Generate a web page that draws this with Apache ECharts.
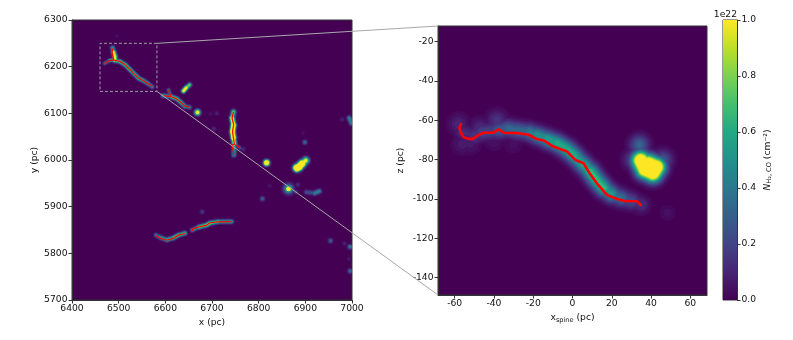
<!DOCTYPE html>
<html>
<head>
<meta charset="utf-8">
<title>CO column density filament</title>
<script src="https://cdn.jsdelivr.net/npm/echarts@6/dist/echarts.min.js"></script>
<style>
  html, body { margin: 0; padding: 0; background: #fff; }
  #chart { width: 793px; height: 340px; }
</style>
</head>
<body>
<div id="chart"></div>
<script>
// tick labels
const xTicksLeft = [6400, 6500, 6600, 6700, 6800, 6900, 7000]
const yTicksLeft = [5700, 5800, 5900, 6000, 6100, 6200, 6300]
const xTicksRight = [-60, -40, -20, 0, 20, 40, 60]
const zTicksRight = [-140, -120, -100, -80, -60, -40, -20]
const cbarTicks = [0, 0.2, 0.4, 0.6, 0.8, 1]

// zoom box, left panel (pc)
const boxX = [6460, 6582]
const boxY = [6147, 6250]

// red spines, left panel [x, y]
const spineA1 = [[6470,6207],[6480,6213],[6489,6214.5],[6503,6211],[6514,6204],[6525,6193],[6533,6184.5],[6543,6175],[6553,6170],[6564,6163],[6572.5,6157.5]]
const spineA2 = [[6487,6239],[6486,6230],[6489,6214.5]]
const spineB1 = [[6595,6138],[6612,6136],[6624.5,6131],[6635,6122],[6642,6115.5],[6652,6113]]
const spineB2 = [[6607,6150],[6612,6136]]
const spineC1 = [[6746,6103],[6743,6090],[6746.5,6075.5],[6744,6061],[6746,6047],[6748,6034],[6760,6025.5]]
const spineC2 = [[6748,6034],[6743,6032],[6747,6010.5]]
const spineD = [[6580,5838],[6589,5832.5],[6603,5828],[6617.5,5832.5],[6628,5839],[6642.5,5842.5]]
const spineE = [[6658,5847.5],[6658.5,5852.5],[6671,5856],[6689,5860.5],[6696,5865.5],[6713.5,5867.5],[6742,5868]]

// red spine, right panel [x, z]
const spineRight = [[-56.7,-61.4],[-57.6,-63.9],[-56.7,-66.5],[-55.5,-68.5],[-53,-69.4],[-50.8,-69.4],[-47.9,-67.5],[-45.3,-66.3],[-40.2,-66.3],[-37.7,-64.6],[-34.8,-66.3],[-27.5,-66.5],[-22.4,-67.3],[-18.2,-69.5],[-14.8,-70.2],[-9.7,-73.3],[-2.9,-75.8],[1.4,-80.1],[5.6,-81.8],[8.7,-86.9],[12.4,-92],[17.5,-97.9],[22.6,-100],[26.8,-101],[32.8,-101.1],[35,-103.4]]

// column density ridges, left panel [x, y, N / 1e22]
const fieldA = [[6489,6214,.85],[6503,6211,.75],[6514,6204,.85],[6525,6193,.75],[6533,6185,.7],[6543,6175,.75],[6553,6170,.6],[6564,6163,.55],[6572,6157,.35]]
const fieldAWing = [[6470,6207,.3],[6480,6213,.5],[6489,6215,.85]]
const fieldAHead = [[6487,6240,.35],[6489,6232,.85],[6492,6222,1.25],[6492,6214,.95]]
const fieldB = [[6595,6138,.35],[6612,6136,.8],[6625,6131,.8],[6635,6122,.7],[6642,6115,.6],[6652,6113,.3]]
const fieldBWing = [[6607,6150,.2],[6612,6136,.6]]
const fieldC = [[6746,6103,.7],[6743,6090,1],[6746,6075,1.7],[6744,6061,2.2],[6746,6047,1.5],[6748,6034,.7],[6747,6011,.3]]
const fieldCWing = [[6748,6034,.4],[6760,6026,.15]]
const fieldD = [[6580,5839,.35],[6589,5834,.5],[6603,5829,.65],[6617,5833,.7],[6628,5839,.9],[6642,5843,.55]]
const fieldE = [[6658,5850,.35],[6671,5856,.7],[6689,5861,1],[6696,5865,.85],[6714,5868,.7],[6742,5868,.5]]
const fieldStreak = [[6639,6148,1.4],[6645,6155,1.05],[6652,6161,.6]]
const fieldKnots = [[6669,6102,1.3],[6817,5994,1.9]]
const fieldKnotHalo = [[6864,5938,.75]]
const fieldKnotCore = [[6864,5938,2.2]]
const fieldBright = [[6901,5999,.7],[6893,5992,1.5],[6886,5985,2.4],[6882,5983,2.1]]
const fieldWisp = [[6902,5931,.1],[6920,5929,.45],[6930,5933,.5]]
const fieldFaint = [[6710,6100,.12],[6697,6099,.08],[6704,6067,.15],[6899,6038,.38],[6895,6058,.06],[6767,6023,.15],[6979,6087,.12],[6496,6266,.06],[6884,5947,.15],[6824,5945,.08],[6808,5917,.35],[6954,5827,.35],[6984,5821,.12],[6679,5889,.2],[6996,5814,.5],[6996,5762,.4],[6994,5788,.08],[6879,5932,.2]]
const fieldEdge = [[6994,6090,.5],[6999,6079,.45]]

// column density ridges, right panel [x, z, N / 1e22]
const fieldRight = [[-56,-66,.13],[-50,-68,.16],[-46,-66,.2],[-38,-65,.26],[-33,-64,.36],[-28,-65,.34],[-22,-66,.4],[-18,-67.5,.48],[-13,-69.5,.58],[-8,-71.5,.62],[-3,-74.5,.68],[1,-78,.62],[5,-82,.58],[9,-86,.68],[12,-90,.75],[16,-94.5,.65],[20,-97.5,.45],[25,-99.5,.32],[30,-101,.2],[35,-103,.1]]
const fieldHead = [[-58,-62,.12],[-56,-72,.09],[-38.5,-60,.17],[-47,-64,.14],[-52,-72,.08],[-40,-70,.07],[-30,-72,.05]]
const fieldCore = [[34.8,-80.4,1.45],[37,-84.8,1.5],[40.9,-86.5,1.55],[42.6,-83.8,1.5],[38.7,-82.1,1.5]]
const fieldCoreTop = [[34.1,-72.4,.35],[31,-80,.25],[46,-80,.3]]
const fieldCoreFaint = [[48.4,-107,.05]]

const viridis = ['#440154','#482475','#414487','#355f8d','#2a788e','#21918c','#22a884','#44bf70','#7ad151','#bddf26','#fde725']
const levels = [.02,.04,.07,.1,.14,.18,.23,.28,.33,.38,.43,.48,.54,.6,.66,.72,.78,.84,.9,.95,1]

const axisColor = '#333'
const textColor = '#111'
const font = 'DejaVu Sans'
const fontSize = 9.2

// sigma is the ridge width in screen pixels
const leftRidges = [
    { pts: fieldA, sigma: 1.4 }, { pts: fieldAWing, sigma: 1.2 }, { pts: fieldAHead, sigma: 1.5 },
    { pts: fieldB, sigma: 1.4 }, { pts: fieldBWing, sigma: 1.2 }, { pts: fieldC, sigma: 1.6 }, { pts: fieldCWing, sigma: 1.3 },
    { pts: fieldD, sigma: 1.4 }, { pts: fieldE, sigma: 1.4 }, { pts: fieldStreak, sigma: 1.4 },
    { pts: fieldKnots, sigma: 1.9, dots: true }, { pts: fieldKnotHalo, sigma: 3.2, dots: true }, { pts: fieldKnotCore, sigma: 1.5, dots: true },
    { pts: fieldBright, sigma: 2.3 }, { pts: fieldWisp, sigma: 1.6 },
    { pts: fieldFaint, sigma: 1.6, dots: true }, { pts: fieldEdge, sigma: 1.6 }
]
const rightRidges = [
    { pts: fieldRight, sigma: 5.8 }, { pts: fieldHead, sigma: 7, dots: true },
    { pts: fieldCore, sigma: 6.3 }, { pts: fieldCoreTop, sigma: 6.5, dots: true }, { pts: fieldCoreFaint, sigma: 6, dots: true }
]

const toSegments = (ridges) => {
    const segs = []
    ridges.forEach(r => {
        if (r.dots) {
            r.pts.forEach(p => segs.push([p[0], p[1], p[0], p[1], p[2], p[2], r.sigma]))
        } else {
            for (let i = 0; i < r.pts.length - 1; i++) {
                const a = r.pts[i], b = r.pts[i + 1]
                segs.push([a[0], a[1], b[0], b[1], a[2], b[2], r.sigma])
            }
        }
    })
    return segs
}

// one custom series per contour level, widest and darkest first
const fieldSeries = (ridges, gridIndex) => {
    const segs = toSegments(ridges)
    return levels.map(level => ({
        type: 'custom',
        xAxisIndex: gridIndex,
        yAxisIndex: gridIndex,
        clip: true,
        silent: true,
        animation: false,
        data: segs.filter(s => (s[4] + s[5]) / 2 > level),
        renderItem: (params, api) => {
            const a = api.coord([api.value(0), api.value(1)])
            const b = api.coord([api.value(2), api.value(3)])
            const v = (api.value(4) + api.value(5)) / 2
            const width = 2 * api.value(6) * Math.sqrt(2 * Math.log(v / level))
            const color = echarts.color.lerp(level, viridis)
            if (a[0] === b[0] && a[1] === b[1]) {
                return { type: 'circle', shape: { cx: a[0], cy: a[1], r: width / 2 }, style: { fill: color } }
            }
            return {
                type: 'line',
                shape: { x1: a[0], y1: a[1], x2: b[0], y2: b[1] },
                style: { stroke: color, fill: null, lineWidth: width, lineCap: 'round' }
            }
        }
    }))
}

const spine = (pts, gridIndex, width) => ({
    type: 'line',
    xAxisIndex: gridIndex,
    yAxisIndex: gridIndex,
    data: pts,
    showSymbol: false,
    silent: true,
    animation: false,
    z: 5,
    lineStyle: { color: '#ff0000', width: width, join: 'round' }
})

const valueAxis = (min, max, ticks, extra) => Object.assign({
    type: 'value',
    min: min,
    max: max,
    splitLine: { show: false },
    axisLine: { show: true, onZero: false, lineStyle: { color: axisColor, width: 1 } },
    axisTick: { show: true, customValues: ticks, length: 3.5, lineStyle: { color: axisColor, width: 1 } },
    axisLabel: { customValues: ticks, color: textColor, fontFamily: font, fontSize: fontSize, margin: 4.5, hideOverlap: false, formatter: v => String(v) },
    nameLocation: 'middle',
    nameTextStyle: { color: textColor, fontFamily: font, fontSize: fontSize }
}, extra)

const boxLine = [[boxX[1],boxY[1]],[boxX[0],boxY[1]],[boxX[0],boxY[0]],[boxX[1],boxY[0]],[boxX[1],boxY[1]]]

const gridBase = { show: true, backgroundColor: viridis[0], borderColor: axisColor, borderWidth: 1, containLabel: false }

const option = {
    animation: false,
    backgroundColor: '#fff',
    grid: [
        Object.assign({ left: 72, top: 20, width: 280, height: 280 }, gridBase),
        Object.assign({ left: 438, top: 26, width: 269, height: 269 }, gridBase),
        { left: 723, top: 20, width: 14, height: 280, show: true, borderColor: axisColor, borderWidth: 1, backgroundColor: 'transparent' }
    ],
    xAxis: [
        valueAxis(6400, 7000, xTicksLeft, { gridIndex: 0, name: 'x (pc)', nameGap: 17 }),
        valueAxis(-68.5, 68.5, xTicksRight, {
            gridIndex: 1, name: 'x{sub|spine} (pc)', nameGap: 17,
            nameTextStyle: { color: textColor, fontFamily: font, fontSize: fontSize, rich: {
                sub: { fontFamily: font, fontSize: 6.6, color: textColor, padding: [4, 0, 0, 0] }
            } }
        }),
        { gridIndex: 2, type: 'category', data: ['N'], axisLine: { show: false }, axisTick: { show: false }, axisLabel: { show: false } }
    ],
    yAxis: [
        valueAxis(5700, 6300, yTicksLeft, { gridIndex: 0, name: 'y (pc)', nameGap: 33 }),
        valueAxis(-148.8, -12, zTicksRight, { gridIndex: 1, name: 'z (pc)', nameGap: 33 }),
        valueAxis(0, 1, cbarTicks, {
            gridIndex: 2, position: 'right', name: '{it|N}{sub|H₂, CO} (cm⁻²)', nameGap: 26, nameRotate: 90,
            axisLabel: { customValues: cbarTicks, color: textColor, fontFamily: font, fontSize: fontSize, margin: 4.5, formatter: v => v.toFixed(1) },
            nameTextStyle: { color: textColor, fontFamily: font, fontSize: fontSize, rich: {
                it: { fontFamily: font, fontSize: fontSize, fontStyle: 'italic', color: textColor },
                sub: { fontFamily: font, fontSize: 6.6, color: textColor, padding: [3, 0, 0, 0] }
            } }
        })
    ],
    series: [].concat(
        fieldSeries(leftRidges, 0),
        fieldSeries(rightRidges, 1),
        [spineA1, spineA2, spineB1, spineB2, spineC1, spineC2, spineD, spineE].map(s => spine(s, 0, 1.2)),
        spine(spineRight, 1, 2.6),
        {
            type: 'line', xAxisIndex: 0, yAxisIndex: 0, data: boxLine, showSymbol: false, silent: true, animation: false, z: 6,
            lineStyle: { color: '#a09aa6', width: 1, type: [3, 2] }
        },
        {
            type: 'bar', xAxisIndex: 2, yAxisIndex: 2, data: [1], barWidth: '100%', silent: true, animation: false,
            itemStyle: { color: new echarts.graphic.LinearGradient(0, 1, 0, 0, viridis.map((c, i) => ({ offset: i / (viridis.length - 1), color: c }))) }
        }
    ),
    graphic: { elements: [] }
}

const chart = echarts.init(document.getElementById('chart'), null, { renderer: 'canvas' })
chart.setOption(option)

// connector lines from the zoom box to the right panel corners
const topFrom = chart.convertToPixel({ gridIndex: 0 }, [boxX[1], boxY[1]])
const botFrom = chart.convertToPixel({ gridIndex: 0 }, [boxX[1], boxY[0]])
const topTo = chart.convertToPixel({ gridIndex: 1 }, [-68.5, -12])
const botTo = chart.convertToPixel({ gridIndex: 1 }, [-68.5, -148.8])
const cbarTop = chart.convertToPixel({ gridIndex: 2 }, ['N', 1])
const connector = (a, b) => ({
    type: 'line', z: 10, silent: true,
    shape: { x1: a[0], y1: a[1], x2: b[0], y2: b[1] },
    style: { stroke: '#a8a8a8', lineWidth: 1 }
})
chart.setOption({
    graphic: { elements: [
        connector(topFrom, topTo),
        connector(botFrom, botTo),
        { type: 'text', z: 10, silent: true, x: cbarTop[0] + 7, y: cbarTop[1] - 1,
          style: { text: '1e22', fill: textColor, font: fontSize + 'px "DejaVu Sans"', align: 'right', verticalAlign: 'bottom' } }
    ] }
})
</script>
</body>
</html>
